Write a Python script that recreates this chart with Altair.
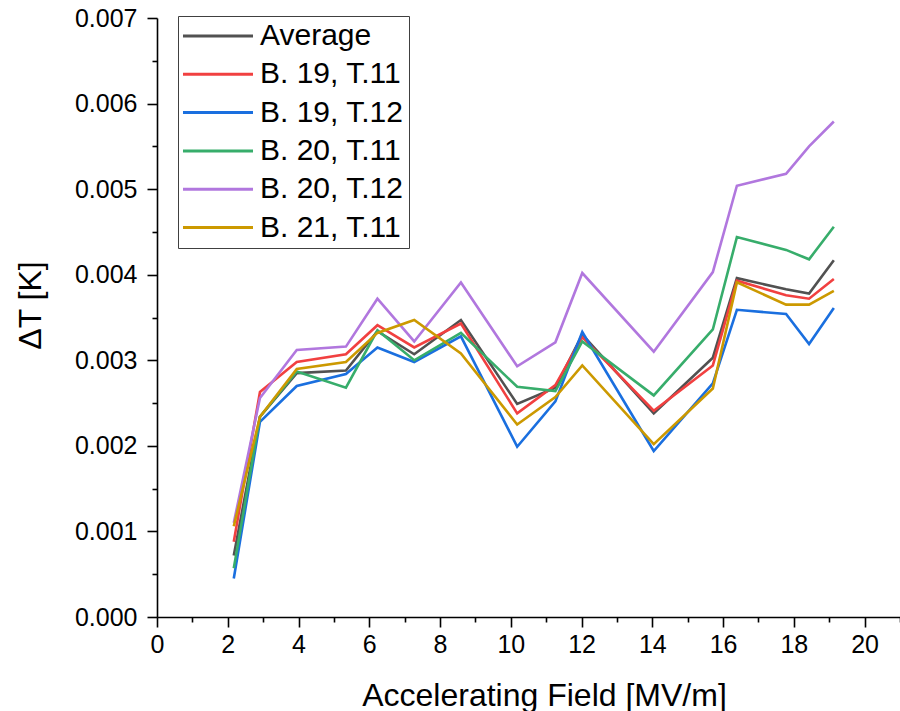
import altair as alt
import pandas as pd

# Accelerating field [MV/m] at each measurement
field = [2.17, 2.91, 3.95, 5.34, 6.23, 7.27, 8.59, 10.18, 11.26, 12.02,
         14.04, 15.71, 16.39, 17.78, 18.43, 19.13]

# Temperature rise ΔT [K] for each sensor and the average
avg = [0.00072, 0.00234, 0.00285, 0.00288, 0.00334, 0.00307, 0.00347, 0.00249,
       0.00268, 0.00330, 0.00238, 0.00303, 0.00396, 0.00383, 0.00378, 0.00417]
b19_t11 = [0.00088, 0.00263, 0.00298, 0.00307, 0.00341, 0.00315, 0.00343, 0.00238,
           0.00271, 0.00327, 0.00241, 0.00294, 0.00393, 0.00376, 0.00372, 0.00395]
b19_t12 = [0.00045, 0.00228, 0.00270, 0.00284, 0.00315, 0.00298, 0.00328, 0.00199,
           0.00252, 0.00333, 0.00194, 0.00273, 0.00359, 0.00354, 0.00319, 0.00361]
b20_t11 = [0.00057, 0.00234, 0.00287, 0.00268, 0.00335, 0.00300, 0.00332, 0.00269,
           0.00264, 0.00322, 0.00259, 0.00336, 0.00444, 0.00429, 0.00418, 0.00456]
b20_t12 = [0.00110, 0.00256, 0.00312, 0.00316, 0.00372, 0.00322, 0.00391, 0.00293,
           0.00321, 0.00402, 0.00310, 0.00403, 0.00504, 0.00518, 0.00550, 0.00579]
b21_t11 = [0.00106, 0.00234, 0.00290, 0.00298, 0.00332, 0.00347, 0.00308, 0.00225,
           0.00257, 0.00294, 0.00202, 0.00267, 0.00391, 0.00365, 0.00365, 0.00381]

names = ["Average", "B. 19, T.11", "B. 19, T.12", "B. 20, T.11", "B. 20, T.12", "B. 21, T.11"]
series = [avg, b19_t11, b19_t12, b20_t11, b20_t12, b21_t11]
colors = ["#515151", "#F14040", "#1A6FDF", "#37AD6B", "#B177DE", "#CC9900"]

x_ticks = list(range(0, 22))
y_ticks = [round(i * 0.0005, 4) for i in range(0, 15)]

rows = []
for name, vals in zip(names, series):
    for f, v in zip(field, vals):
        rows.append({"field": f, "dT": v, "sensor": name})
df = pd.DataFrame(rows)

FONT = "Liberation Sans"

x_major = "datum.value % 2 == 0"
y_major = "round(datum.value * 10000) % 10 == 0"

chart = (
    alt.Chart(df)
    .mark_line(strokeWidth=2.6)
    .encode(
        x=alt.X(
            "field:Q",
            scale=alt.Scale(domain=[0, 21], nice=False),
            axis=alt.Axis(
                title="Accelerating Field [MV/m]",
                values=x_ticks,
                labelExpr=f"{x_major} && datum.value <= 20 ? datum.label : ''",
                tickSize={"condition": {"test": x_major, "value": 10}, "value": 5},
                labelPadding=5,
                labelFlush=False,
                titleX=387,
                titleY=88,
                titleBaseline="alphabetic",
            ),
        ),
        y=alt.Y(
            "dT:Q",
            scale=alt.Scale(domain=[0, 0.007], nice=False),
            axis=alt.Axis(
                title="ΔT [K]",
                values=y_ticks,
                labelExpr=f"{y_major} ? format(datum.value, '.3f') : ''",
                tickSize={"condition": {"test": y_major, "value": 10}, "value": 5},
                labelPadding=10,
                labelFlush=False,
                titleX=-117,
                titleY=287,
                titleAngle=-90,
                titleAlign="center",
                titleBaseline="alphabetic",
            ),
        ),
        color=alt.Color(
            "sensor:N",
            scale=alt.Scale(domain=names, range=colors),
            legend=alt.Legend(
                title=None,
                orient="none",
                legendX=21,
                legendY=-2,
                padding=5,
                strokeColor="#404040",
                fillColor="white",
                symbolType="M-2.593,0H2.593",
                symbolSize=729,
                symbolStrokeWidth=3,
                symbolOffset=20,
                labelOffset=27,
                rowPadding=8.3,
                labelFont=FONT,
                labelFontSize=30,
                labelColor="black",
            ),
        ),
    )
    .properties(
        width=743,
        height=599,
        autosize=alt.AutoSizeParams(type="none"),
        padding={"left": 157, "top": 18, "right": 0, "bottom": 94},
    )
    .configure_view(stroke=None)
    .configure_axis(
        grid=False,
        domainColor="black",
        domainWidth=1.6,
        tickColor="black",
        tickWidth=1.6,
        labelFont=FONT,
        labelFontSize=25,
        labelColor="black",
        titleFont=FONT,
        titleFontSize=32,
        titleFontWeight="normal",
        titleColor="black",
    )
)

chart.save("out.html", embed_options={"renderer": "svg", "actions": False})
